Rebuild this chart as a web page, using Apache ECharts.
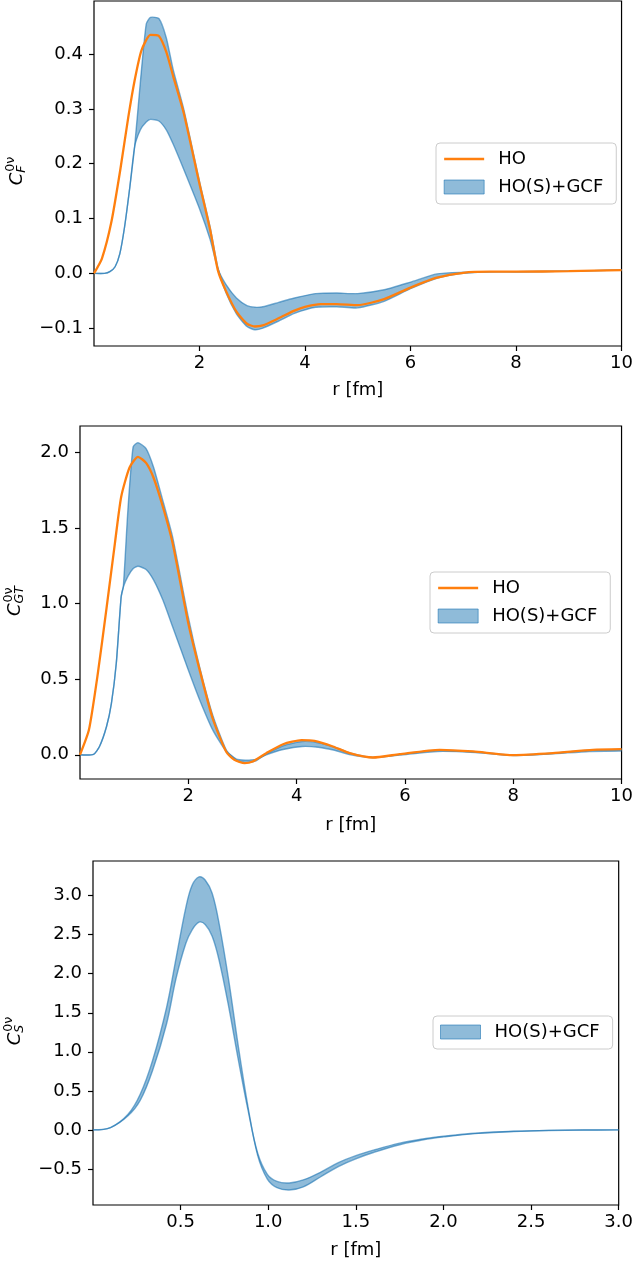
<!DOCTYPE html>
<html><head><meta charset="utf-8">
<script src="https://cdn.jsdelivr.net/npm/echarts@6/dist/echarts.min.js"></script>
<style>html,body{margin:0;padding:0;background:#fff}#c{width:636px;height:1267px}</style>
</head><body><div id="c"></div>
<script>
// ---------- Panel 1: C_F ----------
const rF_HO = [0, 0.15, 0.33, 0.5, 0.65, 0.77, 0.9, 1.07, 1.23, 1.37, 1.5, 1.7, 2.0, 2.2, 2.35, 2.5, 2.7, 2.9, 3.05, 3.2, 3.5, 3.8, 4.0, 4.3, 4.6, 5.0, 5.5, 6.0, 6.5, 7.0, 7.5, 8.0, 9.0, 10.0];
const hoF = [0, 0.027, 0.094, 0.19, 0.285, 0.352, 0.407, 0.435, 0.433, 0.404, 0.36, 0.293, 0.163, 0.08, 0.005, -0.032, -0.07, -0.092, -0.097, -0.095, -0.082, -0.068, -0.061, -0.056, -0.056, -0.058, -0.047, -0.026, -0.008, 0.001, 0.003, 0.003, 0.004, 0.006];
const rF_band = [0, 0.2, 0.3, 0.4, 0.49, 0.58, 0.68, 0.77, 0.88, 0.99, 1.07, 1.23, 1.37, 1.5, 1.7, 2.0, 2.2, 2.35, 2.5, 2.7, 2.9, 3.05, 3.2, 3.5, 3.8, 4.2, 4.6, 5.0, 5.5, 6.0, 6.5, 7.0, 7.5, 8.0, 9.0, 10.0];
const gcfF_A = [0, 0.0, 0.003, 0.012, 0.036, 0.085, 0.158, 0.231, 0.35, 0.455, 0.467, 0.465, 0.43, 0.372, 0.3, 0.168, 0.085, 0.01, -0.035, -0.074, -0.097, -0.103, -0.1, -0.087, -0.073, -0.062, -0.061, -0.063, -0.051, -0.028, -0.009, 0.0, 0.003, 0.003, 0.004, 0.006];
const gcfF_B = [0, 0.0, 0.003, 0.012, 0.036, 0.085, 0.158, 0.231, 0.262, 0.276, 0.281, 0.278, 0.262, 0.236, 0.19, 0.118, 0.062, 0.008, -0.02, -0.045, -0.059, -0.062, -0.061, -0.053, -0.045, -0.037, -0.036, -0.037, -0.03, -0.016, -0.001, 0.002, 0.003, 0.003, 0.004, 0.006];
const yTicksF = [-0.1, 0, 0.1, 0.2, 0.3, 0.4];

// ---------- Panel 2: C_GT ----------
const rGT_HO = [0, 0.165, 0.33, 0.49, 0.645, 0.76, 0.915, 1.07, 1.22, 1.36, 1.53, 1.71, 2.0, 2.21, 2.45, 2.70, 2.85, 3.04, 3.19, 3.44, 3.75, 4.09, 4.33, 4.67, 4.98, 5.41, 5.9, 6.64, 7.26, 8.0, 8.73, 9.47, 10.0];
const hoGT = [0, 0.165, 0.54, 0.97, 1.40, 1.705, 1.90, 1.97, 1.93, 1.83, 1.64, 1.40, 0.87, 0.56, 0.24, 0.02, -0.033, -0.055, -0.044, 0.011, 0.07, 0.097, 0.092, 0.055, 0.011, -0.018, 0.004, 0.033, 0.022, -0.002, 0.011, 0.033, 0.037];
const rGT_band = [0, 0.25, 0.36, 0.49, 0.58, 0.67, 0.76, 0.80, 0.885, 0.98, 1.07, 1.22, 1.36, 1.53, 1.71, 2.0, 2.21, 2.45, 2.70, 2.89, 3.05, 3.25, 3.44, 3.75, 4.1, 4.4, 4.7, 5.0, 5.4, 5.9, 6.6, 7.3, 8.0, 8.7, 9.4, 10.0];
const gcfGT_A = [0, 0.003, 0.055, 0.187, 0.34, 0.605, 1.045, 1.11, 1.62, 2.035, 2.064, 2.025, 1.90, 1.68, 1.44, 0.91, 0.58, 0.264, 0.033, -0.035, -0.05, -0.04, 0.005, 0.06, 0.088, 0.08, 0.05, 0.01, -0.018, 0.002, 0.03, 0.02, -0.003, 0.01, 0.03, 0.035];
const gcfGT_B = [0, 0.003, 0.055, 0.187, 0.34, 0.605, 1.045, 1.11, 1.18, 1.23, 1.247, 1.225, 1.155, 1.023, 0.847, 0.561, 0.363, 0.165, 0.022, -0.029, -0.035, -0.03, 0.0, 0.035, 0.055, 0.05, 0.03, 0.0, -0.018, -0.002, 0.022, 0.015, -0.005, 0.005, 0.022, 0.025];
const yTicksGT = [0, 0.5, 1.0, 1.5, 2.0];

// ---------- Panel 3: C_S ----------
const rS_band = [0, 0.1, 0.2, 0.27, 0.34, 0.42, 0.475, 0.53, 0.565, 0.605, 0.64, 0.68, 0.72, 0.775, 0.83, 0.885, 0.94, 0.995, 1.05, 1.12, 1.2, 1.3, 1.4, 1.5, 1.6, 1.75, 1.9, 2.0, 2.2, 2.4, 2.6, 2.8, 3.0];
const gcfS_A = [0, 0.03, 0.2, 0.46, 0.89, 1.57, 2.21, 2.85, 3.13, 3.24, 3.2, 3.03, 2.64, 1.91, 1.06, 0.29, -0.33, -0.63, -0.74, -0.77, -0.73, -0.6, -0.47, -0.37, -0.29, -0.19, -0.12, -0.09, -0.045, -0.02, -0.007, -0.002, 0];
const gcfS_B = [0, 0.03, 0.18, 0.38, 0.76, 1.36, 1.95, 2.39, 2.56, 2.66, 2.63, 2.48, 2.17, 1.57, 0.89, 0.25, -0.3, -0.57, -0.66, -0.68, -0.64, -0.54, -0.42, -0.33, -0.26, -0.17, -0.11, -0.08, -0.04, -0.018, -0.006, -0.002, 0];
const yTicksS = [-0.5, 0, 0.5, 1.0, 1.5, 2.0, 2.5, 3.0];

const xTicks10 = [2, 4, 6, 8, 10];
const xTicks3 = [0.5, 1.0, 1.5, 2.0, 2.5, 3.0];

const FONT = '"DejaVu Sans", sans-serif';
const BLUE_FILL = 'rgba(31,119,180,0.5)';
const BLUE_EDGE = 'rgba(31,119,180,0.6)';
const ORANGE = '#ff7f0e';

const fmt1 = v => (v < 0 ? '\u2212' + Math.abs(v).toFixed(1) : v.toFixed(1));
const fmtInt = v => String(v);

function xAxis(gi, max, ticks, fmt, gap) {
  return {
    type: 'value', gridIndex: gi, min: 0, max: max,
    axisLine: {show: false, onZero: false}, splitLine: {show: false},
    axisTick: {show: true, inside: false, length: 5, customValues: ticks, lineStyle: {color: '#000', width: 1.2}},
    axisLabel: {customValues: ticks, formatter: fmt, margin: 8, fontSize: 18, color: '#000', fontFamily: FONT},
    name: 'r [fm]', nameLocation: 'middle', nameGap: gap,
    nameTextStyle: {fontSize: 18, color: '#000', fontFamily: FONT}
  };
}
function yAxis(gi, min, max, ticks) {
  return {
    type: 'value', gridIndex: gi, min: min, max: max,
    axisLine: {show: false, onZero: false}, splitLine: {show: false},
    axisTick: {show: true, inside: false, length: 5, customValues: ticks, lineStyle: {color: '#000', width: 1.2}},
    axisLabel: {customValues: ticks, formatter: fmt1, margin: 11, fontSize: 18, color: '#000', fontFamily: FONT}
  };
}
function band(idx, xs, A, B, smooth) {
  return {
    name: 'HO(S)+GCF', type: 'custom', coordinateSystem: 'cartesian2d', xAxisIndex: idx, yAxisIndex: idx,
    data: xs.map((x, i) => [x, A[i], B[i]]), encode: {x: 0, y: [1, 2]},
    itemStyle: {color: BLUE_FILL}, silent: true, z: 2, clip: true,
    renderItem: function (params, api) {
      if (params.dataIndex !== 0) return null;
      const pa = xs.map((x, i) => api.coord([x, A[i]]));
      const pb = xs.map((x, i) => api.coord([x, B[i]]));
      const poly = pa.concat(pb.slice().reverse());
      return {
        type: 'group',
        children: [
          {type: 'polygon', shape: {points: poly, smooth: smooth}, style: {fill: BLUE_FILL, stroke: null}},
          {type: 'polyline', shape: {points: pa, smooth: smooth}, style: {fill: null, stroke: BLUE_EDGE, lineWidth: 1.4}},
          {type: 'polyline', shape: {points: pb, smooth: smooth}, style: {fill: null, stroke: BLUE_EDGE, lineWidth: 1.4}}
        ]
      };
    }
  };
}
function ho(idx, xs, ys) {
  return {name: 'HO', type: 'line', xAxisIndex: idx, yAxisIndex: idx, data: xs.map((x, i) => [x, ys[i]]),
    symbol: 'none', smooth: 0.2, color: ORANGE, lineStyle: {color: ORANGE, width: 2.3}, z: 5};
}
function legend(left, top, names) {
  return {
    left: left, top: top, orient: 'vertical', selectedMode: false,
    data: names.map(n => n === 'HO'
      ? {name: n, itemStyle: {opacity: 0}, lineStyle: {color: ORANGE, width: 2.3, opacity: 1}}
      : {name: n, icon: 'rect', itemStyle: {color: BLUE_FILL, borderColor: BLUE_EDGE, borderWidth: 1}}),
    itemWidth: 40, itemHeight: 14, itemGap: 8,
    padding: [6, 13, 7, 7],
    borderColor: '#cccccc', borderWidth: 1, borderRadius: 4, backgroundColor: 'rgba(255,255,255,0.8)',
    textStyle: {fontSize: 18, color: '#000', fontFamily: FONT, lineHeight: 20, padding: [0, 0, 0, 9]}
  };
}
function ylab(cx, cy, sub) {
  const supSize = 12.6;
  const subW = sub.length * 8.6;
  const total = 13 + Math.max(15.5, subW);
  return {
    type: 'group', x: cx, y: cy + total / 2, rotation: Math.PI / 2, silent: true,
    children: [
      {type: 'text', x: 0, y: 0, style: {text: 'C', fontSize: 18, fontStyle: 'italic', fontFamily: FONT, fill: '#000', align: 'left', verticalAlign: 'middle', textAlign: 'left', textVerticalAlign: 'middle'}},
      {type: 'text', x: 13.5, y: -6.5, style: {text: '0\u03bd', fontSize: supSize, fontFamily: FONT, fill: '#000', align: 'left', verticalAlign: 'middle', textAlign: 'left', textVerticalAlign: 'middle'}},
      {type: 'text', x: 12.5, y: 5, style: {text: sub, fontSize: supSize, fontStyle: 'italic', fontFamily: FONT, fill: '#000', align: 'left', verticalAlign: 'middle', textAlign: 'left', textVerticalAlign: 'middle'}}
    ]
  };
}

const grids = [
  {left: 94, top: 1, width: 531, height: 345},
  {left: 80, top: 426, width: 544, height: 353},
  {left: 93, top: 861, width: 529, height: 344}
].map(g => Object.assign(g, {show: true, borderColor: '#000', borderWidth: 1.2, backgroundColor: 'transparent', containLabel: false}));

const option = {
  animation: false,
  backgroundColor: '#fff',
  grid: grids,
  xAxis: [xAxis(0, 10, xTicks10, fmtInt, 35), xAxis(1, 10, xTicks10, fmtInt, 37), xAxis(2, 3, xTicks3, v => v.toFixed(1), 36)],
  yAxis: [yAxis(0, -0.1326, 0.497, yTicksF), yAxis(1, -0.160, 2.174, yTicksGT), yAxis(2, -0.962, 3.444, yTicksS)],
  legend: [legend(436, 143, ['HO', 'HO(S)+GCF']), legend(430, 572, ['HO', 'HO(S)+GCF']), legend(433, 1016, ['HO(S)+GCF'])],
  series: [
    band(0, rF_band, gcfF_A, gcfF_B, 0.2), ho(0, rF_HO, hoF),
    band(1, rGT_band, gcfGT_A, gcfGT_B, 0.2), ho(1, rGT_HO, hoGT),
    band(2, rS_band, gcfS_A, gcfS_B, 0.35)
  ],
  graphic: [ylab(17, 171, 'F'), ylab(15, 601, 'GT'), ylab(15, 1031, 'S')]
};
const chart = echarts.init(document.getElementById('c'), null, {renderer: 'canvas'});
chart.setOption(option);
</script></body></html>
